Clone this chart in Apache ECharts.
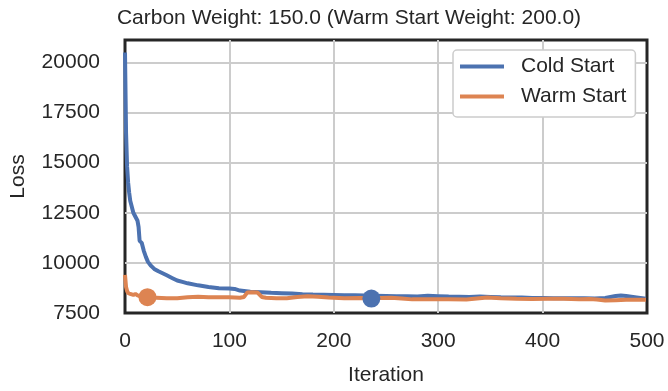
<!DOCTYPE html>
<html>
<head>
<meta charset="utf-8">
<script src="https://cdn.jsdelivr.net/npm/echarts@6/dist/echarts.min.js"></script>
<style>html,body{margin:0;padding:0;background:#fff}#c{width:668px;height:391px}</style>
</head>
<body>
<div id="c"></div>
<script>
const titleText = 'Carbon Weight: 150.0 (Warm Start Weight: 200.0)';
const seriesNames = ['Cold Start', 'Warm Start'];
const xTicks = [0, 100, 200, 300, 400, 500];
const yTicks = [7500, 10000, 12500, 15000, 17500, 20000];

const coldIters = [0,1,2,3,4,5,6,8,10,12,13,14,16,18,20,22,25,28,32,36,40,45,50,55,60,70,80,90,100,105,110,120,130,140,150,160,170,180,190,200,210,220,230,240,250,260,270,280,290,300,310,320,330,340,350,360,370,380,390,400,410,420,430,440,450,460,465,470,475,480,490,499];
const coldLoss = [20500,16500,14800,14000,13500,13100,12900,12500,12300,12100,11800,11100,11000,10600,10300,10050,9850,9700,9580,9480,9380,9250,9120,9050,8980,8880,8800,8730,8720,8700,8620,8560,8540,8510,8490,8470,8440,8420,8410,8400,8390,8380,8370,8360,8350,8340,8330,8320,8360,8340,8320,8310,8300,8320,8300,8280,8270,8270,8250,8250,8240,8240,8230,8230,8220,8250,8300,8350,8370,8350,8280,8210];

const warmIters = [0,1,2,3,4,5,6,8,10,12,15,20,30,40,50,60,70,80,90,100,110,114,117,122,127,131,135,145,155,165,175,185,195,210,225,235,245,255,265,275,290,310,327,337,347,360,375,390,405,420,435,445,452,460,470,480,490,499];
const warmLoss = [9400,8800,8600,8500,8550,8450,8480,8400,8450,8380,8330,8290,8260,8230,8240,8290,8310,8290,8280,8290,8260,8300,8520,8540,8520,8300,8260,8240,8240,8300,8340,8310,8270,8230,8250,8240,8250,8260,8220,8180,8180,8180,8170,8220,8270,8240,8210,8200,8210,8210,8180,8200,8170,8120,8140,8160,8160,8160];

const coldBest = [236, 8220];
const warmBest = [21.5, 8290];

const BLUE = '#4c72b0', ORANGE = '#dd8452', TXT = '#262626';
const FONT = 'Liberation Sans, Arial, sans-serif';
const FS = 21;
const LINE_ICON = 'path://M0,0 L44,0 L44,4 L0,4 Z';

const zip = (a, b) => a.map((v, i) => [v, b[i]]);

const chart = echarts.init(document.getElementById('c'), null, {renderer: 'canvas'});
chart.setOption({
  animation: false,
  backgroundColor: '#fff',
  title: {
    text: titleText, left: 344, top: 3, textAlign: 'center',
    textStyle: {fontFamily: FONT, fontSize: FS, fontWeight: 'normal', color: TXT}
  },
  grid: {left: 124, right: 21, top: 40, bottom: 72, show: true, borderColor: TXT, borderWidth: 3, backgroundColor: 'transparent', containLabel: false},
  legend: {
    orient: 'vertical', left: 453, top: 50,
    data: seriesNames.map(n => ({name: n, icon: LINE_ICON})),
    itemWidth: 44, itemHeight: 21, itemGap: 9,
    padding: [6, 9, 10, 7],
    borderColor: '#cccccc', borderWidth: 1.5, borderRadius: 4, backgroundColor: '#fff',
    textStyle: {fontFamily: FONT, fontSize: FS, color: TXT, padding: [0, 0, 0, 12]}
  },
  xAxis: {
    type: 'value', min: 0, max: 500, interval: 100,
    name: 'Iteration', nameLocation: 'middle', nameGap: 52,
    nameTextStyle: {fontFamily: FONT, fontSize: FS, color: TXT},
    axisLine: {show: false}, axisTick: {show: false},
    axisLabel: {fontFamily: FONT, fontSize: FS, color: TXT, margin: 18},
    splitLine: {show: true, showMinLine: false, showMaxLine: false, lineStyle: {color: '#cccccc', width: 2}}
  },
  yAxis: {
    type: 'value', min: 7500, max: 21120, interval: 2500,
    name: 'Loss', nameLocation: 'middle', nameGap: 96,
    nameTextStyle: {fontFamily: FONT, fontSize: FS, color: TXT},
    axisLine: {show: false}, axisTick: {show: false},
    axisLabel: {fontFamily: FONT, fontSize: FS, color: TXT, margin: 25,
      formatter: v => (yTicks.indexOf(v) >= 0 ? String(v) : '')},
    splitLine: {show: true, showMinLine: false, showMaxLine: false, lineStyle: {color: '#cccccc', width: 2}}
  },
  series: [
    {name: seriesNames[0], type: 'line', data: zip(coldIters, coldLoss), symbol: 'none', smooth: false,
     lineStyle: {color: BLUE, width: 4}, itemStyle: {color: BLUE}, z: 3},
    {name: seriesNames[1], type: 'line', data: zip(warmIters, warmLoss), symbol: 'none', smooth: false,
     lineStyle: {color: ORANGE, width: 4}, itemStyle: {color: ORANGE}, z: 4},
    {name: 'coldBest', type: 'scatter', data: [coldBest], symbol: 'circle', symbolSize: 18, itemStyle: {color: BLUE, opacity: 1}, z: 5},
    {name: 'warmBest', type: 'scatter', data: [warmBest], symbol: 'circle', symbolSize: 18, itemStyle: {color: ORANGE, opacity: 1}, z: 5}
  ]
});
</script>
</body>
</html>
